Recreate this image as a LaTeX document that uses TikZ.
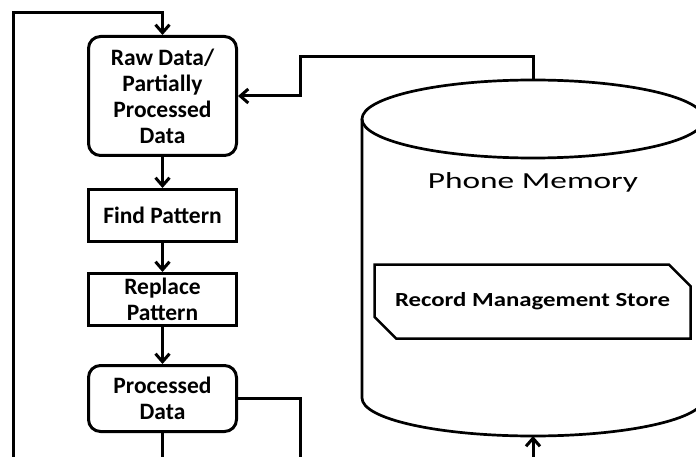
\documentclass[tikz,border=0pt]{standalone}
\usepackage{fontspec}
\setmainfont{Carlito}
\usepackage{tikz}
\usetikzlibrary{
  arrows.meta,
  shapes.misc
}
\tikzstyle{wire}=[line width=3pt]
\tikzstyle{flow}=[wire, -{Straight Barb[length=8pt, width=14pt]}]
\tikzstyle{stepbox}=[draw, line width=3pt, minimum width=148pt, inner sep=2pt, align=center,
  font=\fontsize{23.5}{26}\selectfont\bfseries]
\tikzstyle{roundbox}=[stepbox, rounded corners=12pt]

\begin{document}
\begin{tikzpicture}[x=1pt, y=1pt]
    \useasboundingbox (0,0) rectangle (696,456);
    \clip (0,0) rectangle (696,456);

    % 処理の流れ
    \node[roundbox, minimum height=119pt] (raw) at (162.5,360) {Raw Data/\\Partially\\Processed\\Data};
    \node[stepbox, minimum height=52pt] (find) at (162.5,240.5) {Find Pattern};
    \node[stepbox, minimum height=52pt] (replace) at (162.5,156.5) {Replace\\Pattern};
    \node[roundbox, minimum height=66pt] (proc) at (162.5,57.5) {Processed\\Data};

    \draw[flow] (raw) -- (find);
    \draw[flow] (find) -- (replace);
    \draw[flow] (replace) -- (proc);

    % 電話のメモリ
    \draw[line width=2.7pt] (533,337) ellipse[x radius=171, y radius=39];
    \draw[line width=2.7pt] (362,337) -- (362,58) arc[start angle=180, end angle=360, x radius=171, y radius=38] -- (704,337);
    \node[anchor=base] (memlabel) at (533,268) {\fontsize{23}{26}\selectfont\scalebox{1.45}[1]{Phone Memory}};
    \node[draw, line width=2.5pt, chamfered rectangle, chamfered rectangle corners={north east, south west},
      chamfered rectangle xsep=15pt, chamfered rectangle ysep=13pt, inner sep=0pt,
      minimum width=316pt, minimum height=74pt] (rms) at (532.5,154.5)
      {\fontsize{20}{24}\selectfont\bfseries\scalebox{1.24}[1]{Record Management Store}};

    % 端点
    \coordinate (loopstart) at (13,-5);
    \coordinate (looptop) at (13,443);
    \coordinate (memtop) at (533,376);
    \coordinate (memjog) at (300,399);
    \coordinate (membot) at (533,20);
    \coordinate (memin) at (533,-5);
    \coordinate (procout) at (300,-5);
    \coordinate (procdown) at (162.5,-5);

    % 接続線
    \draw[flow] (loopstart) -- (looptop) -| (raw.north);
    \draw[flow] (memtop) |- (memjog) |- (raw.east);
    \draw[wire] (proc.east) -| (procout);
    \draw[wire] (proc.south) -- (procdown);
    \draw[flow] (memin) -- (membot);
  \end{tikzpicture}
\end{document}
